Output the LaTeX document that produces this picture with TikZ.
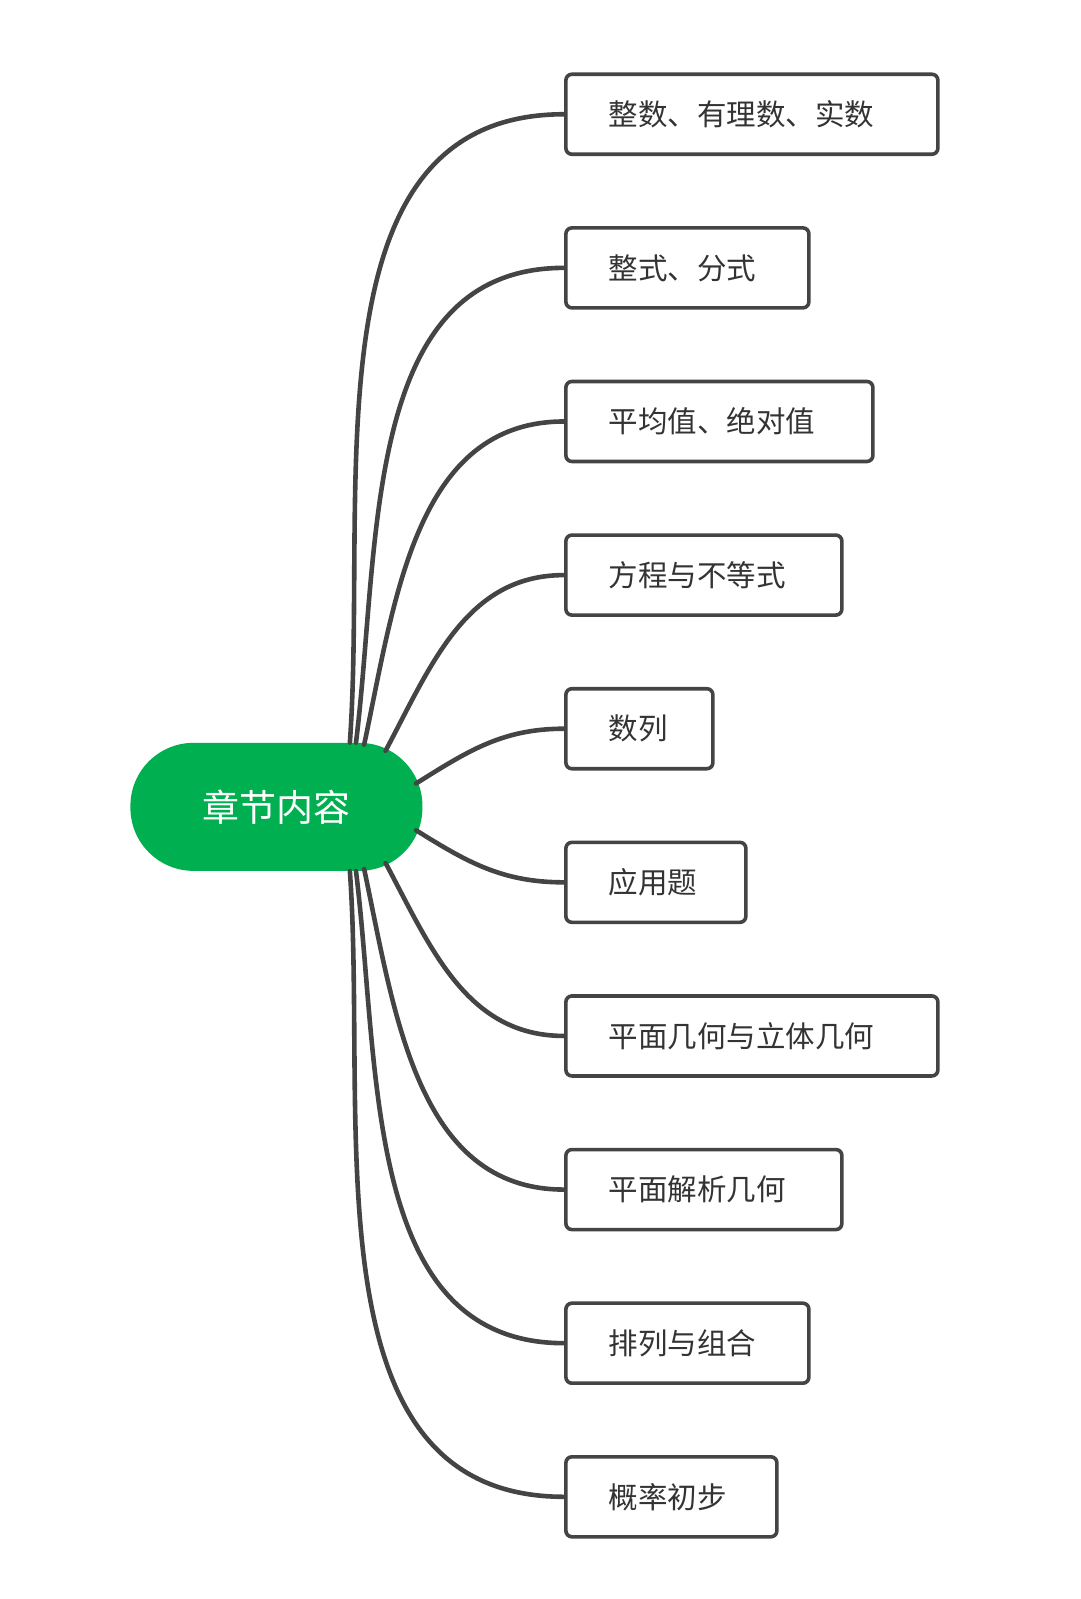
\documentclass[tikz,border=0pt]{standalone}
\usepackage{fontspec}
\setmainfont{Noto Sans CJK SC}
\definecolor{mygreen}{RGB}{0,176,80}
\definecolor{mygray}{RGB}{68,68,68}
\begin{document}
\begin{tikzpicture}[
  x=1.02pt, y=-1.02pt,
  line cap=round,
  line join=round,
  root/.style={fill=mygreen, text=white, rounded corners=63pt, minimum width=292pt,
    minimum height=128pt, font=\fontsize{37}{41}\selectfont},
  box/.style={draw=mygray, line width=3.6pt, rounded corners=6pt, minimum height=80pt,
    anchor=west, inner xsep=43pt, align=left, text=black!80, font=\fontsize{29.5}{34}\selectfont},
  link/.style={draw=mygray, line width=4.6pt}
]
\useasboundingbox (0,0) rectangle (1058.8,1567.6);

% --- root ---
\node[root] (root) at (271,791) {章节内容};

% --- branches: id/text/inner width/start x/start y/out angle ---
\foreach \i/\t/\w/\sx/\sy/\o in {
  1/整数、有理数、实数/286/343/728/86,
  2/整式、分式/157/349/728/83,
  3/平均值、绝对值/221/357/730/78,
  4/方程与不等式/190/378/736/62,
  5/数列/61/408/768/32,
  6/应用题/94/408/814/-32,
  7/平面几何与立体几何/286/378/846/-62,
  8/平面解析几何/190/357/852/-78,
  9/排列与组合/157/349/854/-83,
  10/概率初步/125/343/854/-86}{
  \pgfmathsetmacro{\yy}{112+150.6*(\i-1)}
  \node[box, text width=\w pt] (b\i) at (553,\yy) {\t};
  \coordinate (s\i) at (\sx,\sy);
  \draw[link] (s\i) to[out=\o, in=180] (b\i.west);
}
\end{tikzpicture}
\end{document}
